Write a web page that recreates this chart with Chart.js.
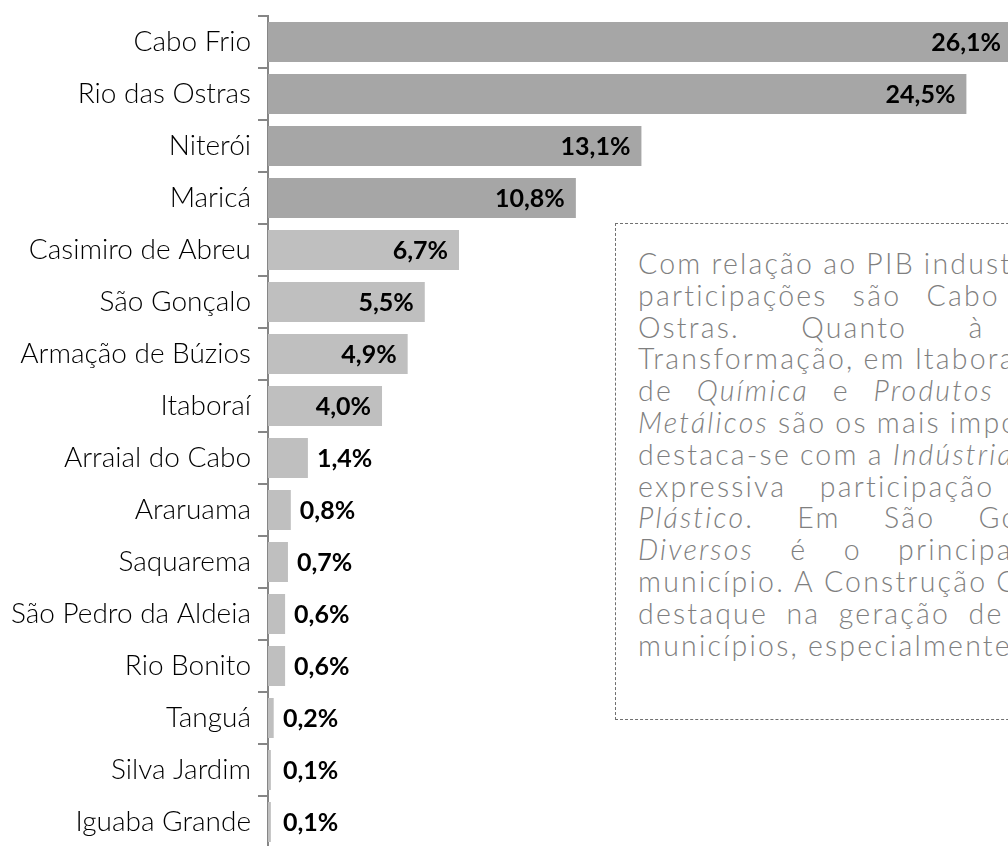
<!DOCTYPE html>
<html>
<head>
<meta charset="utf-8">
<script src="https://cdn.jsdelivr.net/npm/chart.js@4.4.1/dist/chart.umd.min.js"></script>
<style>
  html, body { margin: 0; padding: 0; background: #fff; }
  body { width: 1008px; height: 846px; overflow: hidden; position: relative; }
  #wrap { position: absolute; left: 0; top: 0; width: 1012px; height: 850px; }
  #note {
    position: absolute; left: 615px; top: 223px; width: 700px; height: 497px;
    border: 1.5px dashed #707070; box-sizing: border-box;
    padding: 24px 0 0 22px; background: #fff;
    font-family: Lato, sans-serif; font-weight: 300; font-size: 28.5px; letter-spacing: 2.2px;
    line-height: 31.8px; color: #7f7f7f;
  }
  #note div { width: 630px; white-space: nowrap; display: flex; justify-content: space-between; }
  #note div.nat { justify-content: flex-start; gap: 9px; }
</style>
</head>
<body>
<div id="wrap"><canvas id="pibChart" width="1012" height="850"></canvas></div>
<div id="note">
  <div class="nat"><span>Com</span><span>relação</span><span>ao</span><span>PIB</span><span>industrial,</span><span>as</span><span>maiores</span></div>
  <div><span>participações</span><span>são</span><span>Cabo</span><span>Frio</span><span>e</span><span>Rio</span><span>das</span></div>
  <div><span>Ostras.</span><span>Quanto</span><span>à</span><span>Indústria</span><span>de</span></div>
  <div class="nat"><span>Transformação,</span><span>em</span><span>Itaboraí,</span><span>os</span><span>segmentos</span></div>
  <div><span>de</span><span><i>Química</i></span><span>e</span><span><i>Produtos</i></span><span><i>de</i></span><span><i>Minerais</i></span><span><i>Não</i></span></div>
  <div class="nat"><span><i>Metálicos</i></span><span>são</span><span>os</span><span>mais</span><span>importantes.</span><span>Maricá</span></div>
  <div class="nat"><span>destaca-se</span><span>com</span><span>a</span><span><i>Indústria</i></span><span><i>Metalúrgica</i></span><span>e</span></div>
  <div><span>expressiva</span><span>participação</span><span>de</span><span><i>Borracha</i></span><span><i>e</i></span></div>
  <div><span><i>Plástico</i>.</span><span>Em</span><span>São</span><span>Gonçalo,</span><span><i>Produtos</i></span></div>
  <div><span><i>Diversos</i></span><span>é</span><span>o</span><span>principal</span><span>segmento</span><span>do</span></div>
  <div class="nat"><span>município.</span><span>A</span><span>Construção</span><span>Civil</span><span>possui</span></div>
  <div><span>destaque</span><span>na</span><span>geração</span><span>de</span><span>PIB</span><span>em</span><span>diversos</span></div>
  <div class="nat"><span>municípios,</span><span>especialmente</span><span>em</span><span>Niterói.</span></div>
</div>
<script>
const municipios = ["Cabo Frio", "Rio das Ostras", "Niterói", "Maricá", "Casimiro de Abreu", "São Gonçalo",
  "Armação de Búzios", "Itaboraí", "Arraial do Cabo", "Araruama", "Saquarema", "São Pedro da Aldeia",
  "Rio Bonito", "Tanguá", "Silva Jardim", "Iguaba Grande"];
const participacao = [26.1, 24.5, 13.1, 10.8, 6.7, 5.5, 4.9, 4.0, 1.4, 0.8, 0.7, 0.6, 0.6, 0.2, 0.1, 0.1];

// top four in darker grey
const barColors = participacao.map((v, i) => i < 4 ? "#a6a6a6" : "#bfbfbf");

const valueLabels = {
  id: "valueLabels",
  afterDatasetsDraw(chart) {
    const ctx = chart.ctx;
    const meta = chart.getDatasetMeta(0);
    ctx.save();
    ctx.font = "bold 25px Lato, sans-serif";
    ctx.fillStyle = "#000";
    ctx.textBaseline = "middle";
    meta.data.forEach((bar, i) => {
      const v = participacao[i];
      const txt = v.toFixed(1).replace(".", ",") + "%";
      if (v >= 4) {
        ctx.textAlign = "right";
        ctx.fillText(txt, bar.x - 11, bar.y + 1);
      } else {
        ctx.textAlign = "left";
        ctx.fillText(txt, Math.max(bar.x + 9, 283), bar.y + 1);
      }
    });
    ctx.restore();
  }
};

const ctx = document.getElementById("pibChart").getContext("2d");
const pibChart = new Chart(ctx, {
  type: "bar",
  data: {
    labels: municipios,
    datasets: [{
      data: participacao,
      backgroundColor: barColors,
      borderWidth: 0,
      barPercentage: 0.77,
      categoryPercentage: 1
    }]
  },
  options: {
    indexAxis: "y",
    responsive: false,
    animation: false,
    layout: { padding: { top: 16, bottom: 2, left: 0, right: 0 } },
    plugins: { legend: { display: false }, tooltip: { enabled: false } },
    scales: {
      x: { display: false, min: 0, max: 26.1 },
      y: {
        afterFit(scale) {
          scale.width = 268;
          scale.paddingTop = 0;
          scale.paddingBottom = 0;
        },
        border: { display: true, color: "#868686", width: 2 },
        grid: { display: true, drawOnChartArea: false, tickLength: 10, color: "#868686", lineWidth: 2, offset: true },
        ticks: { color: "#000", padding: 7, font: { family: "Lato, sans-serif", size: 28, weight: "300" } }
      }
    }
  },
  plugins: [valueLabels]
});
</script>
</body>
</html>
